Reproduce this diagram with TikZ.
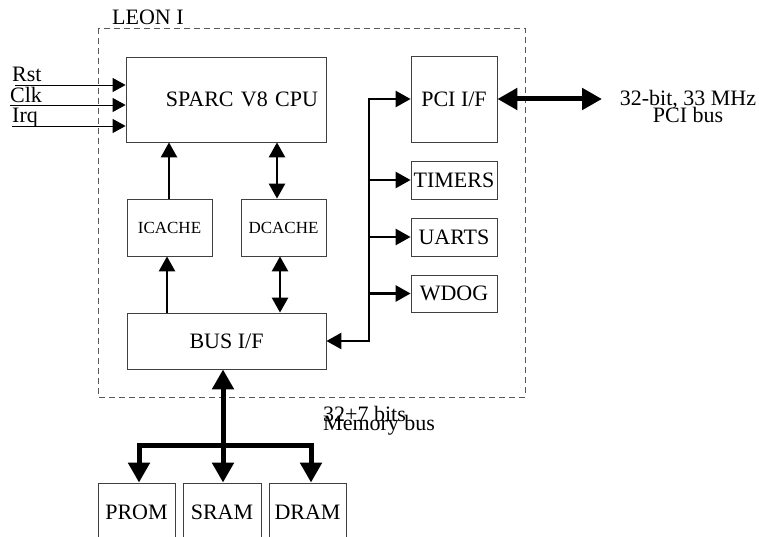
\documentclass[tikz,border=0pt]{standalone}
\usepackage{fontspec}
\setmainfont{Liberation Serif}
\usetikzlibrary{arrows.meta}

\begin{document}
\begin{tikzpicture}[x=1pt,y=-1pt,line join=miter,
    block node/.style={draw=black!75,line width=0.8pt,inner sep=0pt,font=\fontsize{22}{24}\selectfont},
    small node/.style={block node,font=\fontsize{17}{19}\selectfont},
    sig/.style={line width=0.9pt,-{Triangle[length=13pt,width=14pt]}},
    link/.style={line width=2.6pt,-{Triangle[length=15pt,width=16pt]}},
    dlink/.style={line width=2.6pt,{Triangle[length=15pt,width=16pt]}-{Triangle[length=15pt,width=16pt]}},
    bus/.style={line width=5pt,{Triangle[length=20pt,width=21pt]}-{Triangle[length=20pt,width=21pt]}},
    label node/.style={inner sep=0pt,font=\fontsize{22}{24}\selectfont}]

  \clip (0,0) rectangle (759,537);

  % chip outline
  \draw[black!65,line width=0.8pt,dash pattern=on 6pt off 4pt] (98,28) rectangle (525,397);
  \node[label node,anchor=base west] (leon) at (112,25) {LEON I};

  % blocks
  \node[block node,minimum width=200pt,minimum height=85pt,text width=184pt,align=right] (cpu) at (226,99.5) {SPARC V8 CPU};
  \node[small node,minimum width=85pt,minimum height=57pt] (icache) at (169.5,227.5) {ICACHE};
  \node[small node,minimum width=85pt,minimum height=57pt] (dcache) at (283.5,227.5) {DCACHE};
  \node[block node,minimum width=199pt,minimum height=56pt] (busif) at (226.5,341) {BUS I/F};
  \node[block node,minimum width=86pt,minimum height=86pt] (pci) at (454,99) {PCI I/F};
  \node[block node,minimum width=86pt,minimum height=38pt] (timers) at (454,180) {TIMERS};
  \node[block node,minimum width=86pt,minimum height=38pt] (uarts) at (454,237) {UARTS};
  \node[block node,minimum width=86pt,minimum height=37pt] (wdog) at (454,293.5) {WDOG};
  \node[block node,minimum width=77pt,minimum height=58pt] (prom) at (136.5,512) {PROM};
  \node[block node,minimum width=78pt,minimum height=58pt] (sram) at (222,512) {SRAM};
  \node[block node,minimum width=77pt,minimum height=58pt] (dram) at (307.5,512) {DRAM};

  % cpu inputs
  \coordinate (rst) at (15,85);
  \coordinate (clk) at (10,105);
  \coordinate (irq) at (12,126);
  \node[label node,anchor=base west] (rstl) at (12,82) {Rst};
  \node[label node,anchor=base west] (clkl) at (10,103) {Clk};
  \node[label node,anchor=base west] (irql) at (12,123) {Irq};
  \draw[sig] (rst) -- (rst -| cpu.west);
  \draw[sig] (clk) -- (clk -| cpu.west);
  \draw[sig] (irq) -- (irq -| cpu.west);

  % caches
  \draw[link] ([xshift=-0.5pt]icache.north) -- ([xshift=-0.5pt]icache.north |- cpu.south);
  \draw[dlink] ([xshift=-6.5pt]dcache.north) -- ([xshift=-6.5pt]dcache.north |- cpu.south);
  \draw[link] ([xshift=-2.5pt]busif.north -| icache) -- ([xshift=-2.5pt]icache.south);
  \draw[dlink] ([xshift=-3.5pt]busif.north -| dcache) -- ([xshift=-3.5pt]dcache.south);

  % peripheral bus
  \coordinate (bt) at (369,99);
  \coordinate (bj) at (369,341);
  \draw[line width=2.6pt] (bt) -- (bj);
  \draw[link] ([xshift=-1.3pt]bt) -- (pci.west);
  \draw[link] (timers.west -| bt) -- (timers.west);
  \draw[link] (uarts.west -| bt) -- (uarts.west);
  \draw[link] (wdog.west -| bt) -- (wdog.west);
  \draw[link] ([xshift=1.3pt]bj) -- (busif.east);

  % pci bus
  \coordinate (pcib) at (602,99);
  \draw[bus] (pci.east) -- (pcib);
  \node[label node,anchor=north,align=center,font={\fontsize{22}{17}\selectfont\lineskiplimit=-20pt\relax}] (pcil) at (688,90) {32-bit, 33 MHz\\PCI bus};

  % memory bus
  \coordinate (mj) at (223,445);
  \draw[line width=5pt,{Triangle[length=20pt,width=21pt]}-] (busif.south -| mj) -- (mj);
  \draw[line width=5pt,-{Triangle[length=20pt,width=21pt]}] (mj) -- (mj |- sram.north);
  \draw[line width=5pt,-{Triangle[length=20pt,width=21pt]}] (mj) -| ([xshift=2.5pt]prom.north);
  \draw[line width=5pt,-{Triangle[length=20pt,width=21pt]}] (mj) -| ([xshift=3.5pt]dram.north);
  \node[label node,anchor=north west,align=left,font={\fontsize{22}{9.5}\selectfont\lineskiplimit=-20pt\relax}] (meml) at (323,406) {32+7 bits\\Memory bus};
\end{tikzpicture}
\end{document}
